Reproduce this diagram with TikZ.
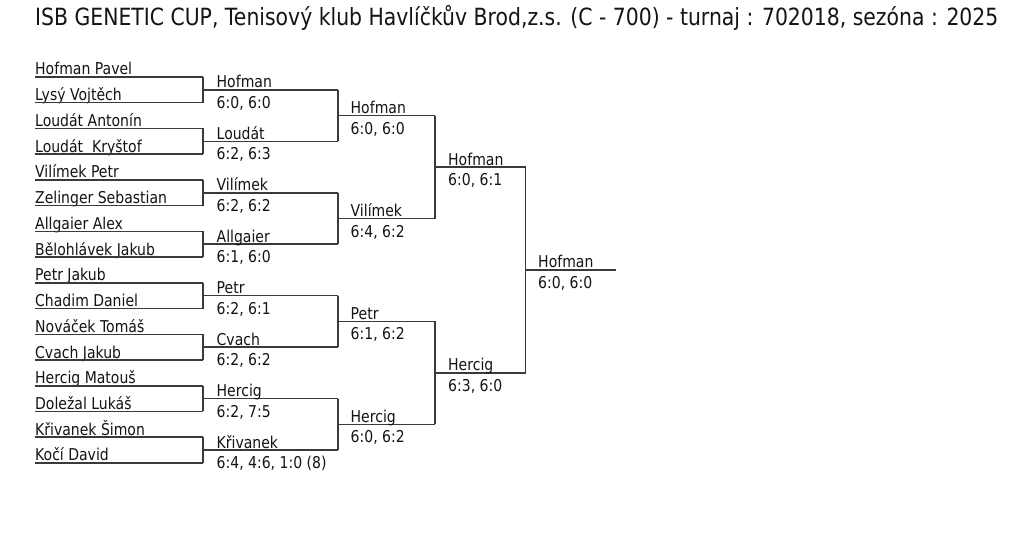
\documentclass[tikz,border=0pt]{standalone}
\usepackage{fontspec}
\setmainfont{DejaVu Sans}[FakeStretch=0.86]
\definecolor{linegray}{HTML}{3A3A3A}
\definecolor{txt}{HTML}{141414}
\begin{document}
\begin{tikzpicture}[x=1pt,y=-1pt,
  bline/.style={draw=linegray, line width=1.5pt},
  pname/.style={anchor=base west, inner sep=0pt, font=\fontsize{16.3}{16}\selectfont, text=txt},
  score/.style={anchor=base west, inner sep=0pt, font=\fontsize{16.3}{16}\selectfont, text=txt},
  ttl/.style={anchor=base west, inner sep=0pt, font=\fontsize{23.7}{24}\selectfont, text=txt}]
\useasboundingbox[fill=white] (0,0) rectangle (1024,548);
\node[ttl] (title) at (35,25.5) {ISB GENETIC CUP, Tenisový klub Havlíčkův Brod,z.s. (C - 700) - turnaj : 702018, sezóna : 2025};
% players
\foreach \n [count=\i from 0] in {Hofman Pavel, Lysý Vojtěch, Loudát Antonín, Loudát\ \ Kryštof, Vilímek Petr, Zelinger Sebastian, Allgaier Alex, Bělohlávek Jakub, Petr Jakub, Chadim Daniel, Nováček Tomáš, Cvach Jakub, Hercig Matouš, Doležal Lukáš, Křivanek Šimon, Kočí David}{
  \pgfmathsetmacro{\yy}{77+25.73*\i}
  \coordinate (pl\i) at (35,\yy);
  \coordinate (pr\i) at (203,\yy);
  \node[pname] (n\i) at (35,\yy-2) {\n};
  \draw[bline] (pl\i) -- (pr\i);
}
% round 1
\foreach \w/\s [count=\j from 0] in {Hofman/{6:0, 6:0}, Loudát/{6:2, 6:3}, Vilímek/{6:2, 6:2}, Allgaier/{6:1, 6:0}, Petr/{6:2, 6:1}, Cvach/{6:2, 6:2}, Hercig/{6:2, 7:5}, Křivanek/{6:4, 4:6, 1:0 (8)}}{
  \pgfmathsetmacro{\yy}{77+25.73*(2*\j+0.5)}
  \pgfmathtruncatemacro{\ja}{2*\j}
  \pgfmathtruncatemacro{\jb}{2*\j+1}
  \coordinate (a1-\j) at (203,\yy);
  \coordinate (b1-\j) at (338,\yy);
  \draw[bline] (pr\ja) -- (pr\jb);
  \draw[bline] (a1-\j) -- (b1-\j);
  \node[pname] (w1-\j) at (216.5,\yy-2) {\w};
  \node[score] (s1-\j) at (216.5,\yy+18.5) {\s};
}
% round 2
\foreach \w/\s [count=\j from 0] in {Hofman/{6:0, 6:0}, Vilímek/{6:4, 6:2}, Petr/{6:1, 6:2}, Hercig/{6:0, 6:2}}{
  \pgfmathsetmacro{\yy}{77+25.73*(4*\j+1.5)}
  \pgfmathtruncatemacro{\ja}{2*\j}
  \pgfmathtruncatemacro{\jb}{2*\j+1}
  \coordinate (a2-\j) at (338,\yy);
  \coordinate (b2-\j) at (435,\yy);
  \draw[bline] (b1-\ja) -- (b1-\jb);
  \draw[bline] (a2-\j) -- (b2-\j);
  \node[pname] (w2-\j) at (350.5,\yy-2) {\w};
  \node[score] (s2-\j) at (350.5,\yy+18.5) {\s};
}
% round 3
\foreach \w/\s [count=\j from 0] in {Hofman/{6:0, 6:1}, Hercig/{6:3, 6:0}}{
  \pgfmathsetmacro{\yy}{77+25.73*(8*\j+3.5)}
  \pgfmathtruncatemacro{\ja}{2*\j}
  \pgfmathtruncatemacro{\jb}{2*\j+1}
  \coordinate (a3-\j) at (435,\yy);
  \coordinate (b3-\j) at (525.7,\yy);
  \draw[bline] (b2-\ja) -- (b2-\jb);
  \draw[bline] (a3-\j) -- (b3-\j);
  \node[pname] (w3-\j) at (448,\yy-2) {\w};
  \node[score] (s3-\j) at (448,\yy+18.5) {\s};
}
% final
\pgfmathsetmacro{\yf}{77+25.73*7.5}
\coordinate (a4-0) at (525.7,\yf);
\coordinate (b4-0) at (616,\yf);
\draw[bline] (b3-0) -- (b3-1);
\draw[bline] (a4-0) -- (b4-0);
\node[pname] (w4-0) at (538,\yf-2) {Hofman};
\node[score] (s4-0) at (538,\yf+18.5) {6:0, 6:0};
\end{tikzpicture}
\end{document}
